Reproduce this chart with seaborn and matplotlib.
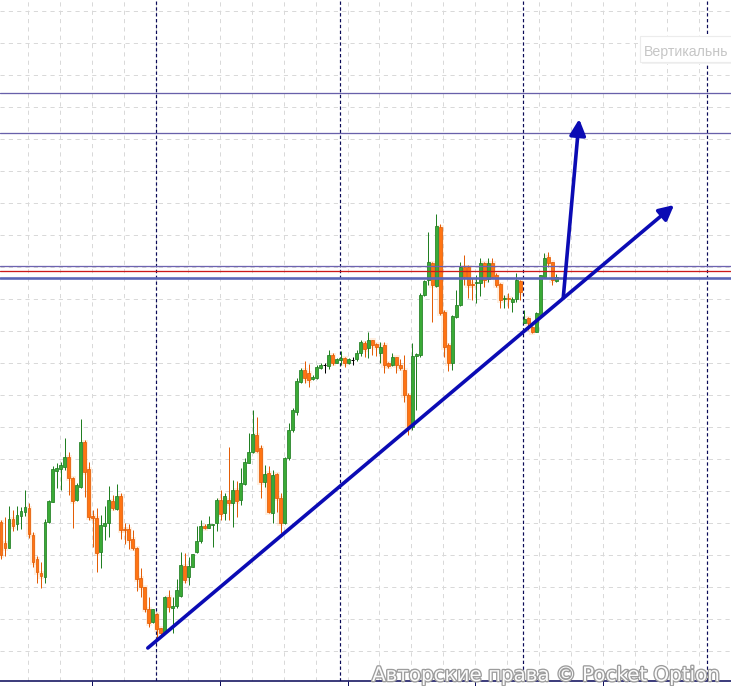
import matplotlib
matplotlib.use("Agg")
import numpy as np
import pandas as pd
import matplotlib.pyplot as plt
import matplotlib.patheffects as pe
from matplotlib.patches import Rectangle
import seaborn as sns

# ---------------- data (price units) ----------------
opens = [159, 138, 133, 162, 157, 165, 169, 173, 146, 122,
         108, 104, 159, 179, 210, 212, 214, 224, 203, 181,
         194, 239, 212, 165, 163, 129, 155, 158, 180, 172,
         185, 152, 152, 142, 133, 103, 94, 72, 59, 67,
         53, 49, 84, 73, 75, 85, 115, 104, 114, 129,
         140, 155, 153, 156, 158, 181, 168, 181, 178, 191,
         181, 197, 218, 229, 246, 233, 199, 208, 168, 207,
         183, 158, 223, 251, 269, 299, 311, 308, 302, 303,
         313, 316, 315, 326, 318, 321, 323, 318, 321, 322,
         328, 338, 333, 341, 337, 328, 336, 318, 316, 324,
         316, 311, 286, 254, 325, 326, 386, 401, 418, 395,
         454, 369, 336, 318, 364, 376, 414, 414, 397, 398,
         398, 418, 402, 418, 406, 397, 382, 383, 379, 382,
         400, 358, 363, 354, 349, 366, 404, 424, 419, 400]
highs = [161, 164, 175, 171, 175, 174, 191, 178, 149, 125,
         119, 162, 181, 215, 218, 219, 243, 229, 204, 198,
         262, 241, 219, 171, 173, 166, 175, 195, 186, 197,
         188, 158, 157, 151, 134, 113, 94, 84, 72, 68,
         53, 85, 91, 84, 102, 129, 128, 124, 127, 155,
         161, 157, 165, 157, 183, 191, 188, 234, 201, 200,
         213, 223, 248, 271, 264, 236, 216, 215, 211, 208,
         188, 224, 258, 273, 303, 313, 320, 317, 306, 316,
         318, 318, 331, 328, 323, 330, 324, 323, 324, 331,
         341, 340, 349, 341, 338, 339, 339, 319, 328, 324,
         322, 326, 288, 338, 328, 388, 401, 449, 419, 467,
         457, 371, 338, 366, 391, 419, 426, 416, 403, 406,
         423, 419, 423, 423, 408, 398, 386, 388, 384, 408,
         401, 371, 364, 355, 369, 406, 428, 429, 419, 407]
lows = [122, 125, 133, 150, 151, 152, 165, 143, 114, 98,
        93, 98, 158, 179, 193, 191, 211, 186, 153, 180,
        193, 184, 161, 134, 109, 113, 141, 144, 171, 171,
        142, 137, 132, 131, 90, 84, 69, 54, 58, 41,
        44, 48, 69, 48, 73, 84, 98, 96, 114, 128,
        138, 152, 153, 134, 150, 161, 161, 161, 154, 164,
        176, 196, 218, 228, 229, 183, 194, 168, 158, 169,
        148, 157, 221, 249, 266, 298, 298, 294, 301, 302,
        312, 308, 312, 316, 318, 316, 314, 317, 316, 320,
        325, 324, 323, 326, 325, 318, 308, 313, 315, 308,
        311, 279, 246, 251, 271, 324, 385, 396, 359, 394,
        366, 324, 310, 311, 363, 375, 396, 383, 381, 378,
        385, 394, 399, 403, 394, 373, 373, 373, 369, 379,
        381, 358, 351, 348, 349, 366, 403, 414, 396, 399]
closes = [126, 133, 162, 155, 166, 170, 174, 147, 119, 109,
          105, 159, 180, 212, 213, 216, 224, 203, 180, 196,
          239, 209, 164, 163, 128, 156, 158, 181, 173, 185,
          151, 151, 141, 133, 102, 94, 72, 58, 72, 52,
          48, 84, 74, 75, 91, 116, 101, 115, 127, 140,
          155, 153, 157, 157, 181, 167, 185, 178, 191, 180,
          198, 219, 229, 247, 230, 199, 207, 169, 206, 183,
          158, 223, 251, 271, 300, 311, 303, 301, 304, 314,
          316, 316, 326, 318, 322, 323, 318, 322, 321, 328,
          339, 332, 341, 336, 334, 334, 316, 315, 324, 316,
          313, 286, 254, 325, 327, 386, 400, 419, 396, 455,
          368, 334, 318, 365, 376, 414, 404, 396, 396, 399,
          418, 401, 418, 404, 396, 381, 383, 382, 382, 401,
          389, 362, 358, 349, 368, 406, 423, 418, 401, 404]

level_lines = [588, 548, 415, 403.5]      # blue/purple horizontal levels
red_levels = [410]                         # red horizontal level
period_marks = [38.75, 84.75, 130.75, 176.75]   # dashed navy verticals (bar index)
trend_start = (36.75, 33)
trend_end = (168.5, 476)
up_start = (140.75, 383)
up_end = (144.75, 562)
label_text = "Вертикальнь"
watermark = "Авторские права © Pocket Option"

# ---------------- style ----------------
sns.set_theme(style="white")
plt.rcParams["font.family"] = ["Liberation Sans", "DejaVu Sans"]
plt.rcParams["lines.scale_dashes"] = False

df = pd.DataFrame({"open": opens, "high": highs, "low": lows, "close": closes})
df["idx"] = np.arange(len(df))

W, H = 731, 686
fig = plt.figure(figsize=(W / 100, H / 100), dpi=100)
fig.patch.set_facecolor("white")
ax = fig.add_axes([0, 5 / H, 1, 681 / H])
ax.set_facecolor("white")
ax.set_xlim(-0.25, 182.5)
ax.set_ylim(0, 681)

px = 0.72  # one pixel in points

# grid
for gx in np.arange(6.75, 183, 8):
    ax.axvline(gx, color="#d9d9d9", lw=px, ls=(0, (3.0, 3.0)), zorder=0)
for gy in np.arange(670, 0, -32):
    ax.axhline(gy, color="#d9d9d9", lw=px, ls=(0, (3.0, 3.0)), zorder=0)

# period separators
for vx in period_marks:
    ax.axvline(vx, color="#0a0a58", lw=1.2 * px, ls=(0, (2.4, 1.8)), zorder=1)

# candles
green_f, green_e = "#3aaa36", "#217f22"
orange_f, orange_e = "#ff7412", "#e35d06"
bw = 0.72
for _, r in df.iterrows():
    i, o, h, l, c = r["idx"], r["open"], r["high"], r["low"], r["close"]
    if c > o:
        fc, ec = green_f, green_e
    elif c < o:
        fc, ec = orange_f, orange_e
    else:
        fc, ec = "black", "black"
    lo, hi = min(o, c), max(o, c)
    if fc == orange_f:
        ax.add_patch(Rectangle((i - 0.8, lo - 2.5), 1.6, hi - lo + 5,
                               facecolor="#ffa040", alpha=0.16, lw=0, zorder=2))
    ax.vlines(i, l, h, color=ec, lw=1.0 * px, zorder=3)
    if fc == "black":
        ax.hlines(o, i - bw / 2, i + bw / 2, color="black", lw=1.0 * px, zorder=4)
    else:
        ax.bar(i, max(hi - lo, 1.2), bottom=lo, width=bw, color=fc,
               edgecolor=ec, linewidth=0.55, zorder=4)

# horizontal levels
ax.axhline(level_lines[0], color="#6860aa", lw=1.3 * px, zorder=5)
ax.axhline(level_lines[1], color="#6860aa", lw=1.3 * px, zorder=5)
ax.axhline(level_lines[2], color="#6d63b0", lw=1.3 * px, zorder=5)
ax.axhline(red_levels[0], color="#cc1a1a", lw=1.3 * px, zorder=5)
ax.axhline(level_lines[3], color="#5a66b8", lw=2.6 * px, zorder=5)

# trend line and arrows
blue = "#0b0bb4"
ax.annotate("", xy=trend_end, xytext=trend_start,
            arrowprops=dict(arrowstyle="-|>,head_length=0.55,head_width=0.28",
                            lw=2.6, color=blue, mutation_scale=16,
                            shrinkA=0, shrinkB=0), zorder=6)
ax.annotate("", xy=up_end, xytext=up_start,
            arrowprops=dict(arrowstyle="-|>,head_length=0.6,head_width=0.3",
                            lw=2.6, color=blue, mutation_scale=16,
                            shrinkA=0, shrinkB=0), zorder=6)

# axes decoration
for s in ["top", "left", "right"]:
    ax.spines[s].set_visible(False)
ax.spines["bottom"].set_color("#10105e")
ax.spines["bottom"].set_linewidth(1.6 * px)
ax.set_yticks([])
ax.set_xticks(np.arange(22.75, 183, 32))
ax.tick_params(axis="x", direction="out", length=5 * px, width=1.0 * px,
               color="#10105e", labelbottom=False, bottom=True)
ax.grid(False)

# label box top right
fig.patches.append(Rectangle((642 / W, 1 - 64 / H), 100 / W, 27 / H,
                             transform=fig.transFigure, facecolor="#f2f2f2",
                             edgecolor="none", zorder=7))
fig.patches.append(Rectangle((640 / W, 1 - 62 / H), 100 / W, 26 / H,
                             transform=fig.transFigure, facecolor="white",
                             edgecolor="#ececec", lw=0.8, zorder=8))
fig.text(644 / W, 1 - 56 / H, label_text, fontsize=10.2, color="#c6c6c6",
         va="baseline", ha="left", zorder=9)

# watermark
fig.text(372 / W, 1 - 681 / H, watermark, fontsize=14.3, color="#fbfbfb",
         family=["DejaVu Sans"], va="baseline", ha="left", zorder=10,
         path_effects=[pe.withStroke(linewidth=1.9, foreground="#9c9c9c")])

fig.savefig("out.png", dpi=100, facecolor="white")
